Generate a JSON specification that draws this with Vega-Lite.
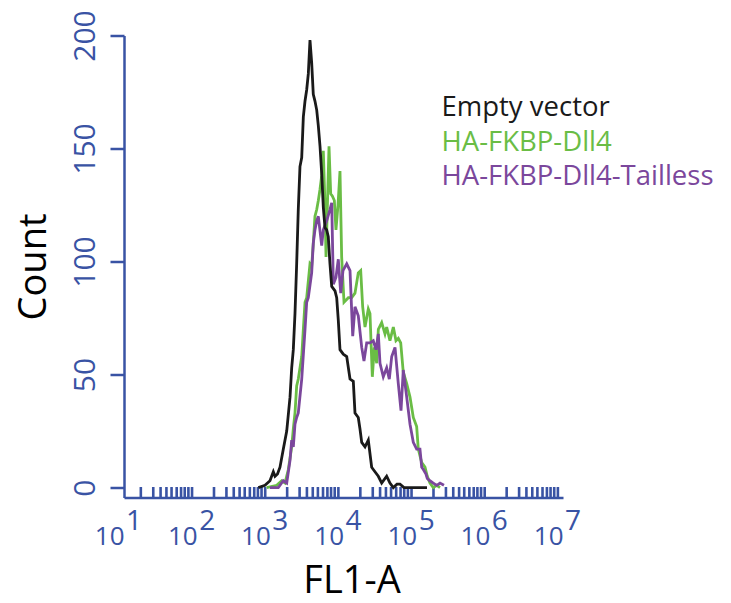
{
  "$schema": "https://vega.github.io/schema/vega-lite/v6.json",
  "autosize": "none",
  "width": 439,
  "height": 462,
  "padding": {"left": 124, "top": 35.5, "right": 168, "bottom": 105.5},
  "background": "white",
  "config": {"view": {"stroke": null}},
  "layer": [
    {
      "data": {"values": [
        {"rug": 1.23}, {"rug": 1.40}, {"rug": 1.50}, {"rug": 1.58}, {"rug": 1.65}, {"rug": 1.72}, {"rug": 1.78}, {"rug": 1.83}, {"rug": 1.88}, {"rug": 1.93},
        {"rug": 2.23}, {"rug": 2.40}, {"rug": 2.50}, {"rug": 2.58}, {"rug": 2.65}, {"rug": 2.72}, {"rug": 2.78}, {"rug": 2.83}, {"rug": 2.88}, {"rug": 2.93},
        {"rug": 3.23}, {"rug": 3.40}, {"rug": 3.50}, {"rug": 3.58}, {"rug": 3.65}, {"rug": 3.72}, {"rug": 3.78}, {"rug": 3.83}, {"rug": 3.88}, {"rug": 3.93},
        {"rug": 4.23}, {"rug": 4.40}, {"rug": 4.50}, {"rug": 4.58}, {"rug": 4.65}, {"rug": 4.72}, {"rug": 4.78}, {"rug": 4.83}, {"rug": 4.88}, {"rug": 4.93},
        {"rug": 5.23}, {"rug": 5.40}, {"rug": 5.50}, {"rug": 5.58}, {"rug": 5.65}, {"rug": 5.72}, {"rug": 5.78}, {"rug": 5.83}, {"rug": 5.88}, {"rug": 5.93},
        {"rug": 6.23}, {"rug": 6.40}, {"rug": 6.50}, {"rug": 6.58}, {"rug": 6.65}, {"rug": 6.72}, {"rug": 6.78}, {"rug": 6.83}, {"rug": 6.88}, {"rug": 6.93}
      ]},
      "mark": {"type": "tick", "orient": "vertical", "color": "#3953a4", "thickness": 2.6, "size": 11, "opacity": 1, "clip": false},
      "encoding": {
        "x": {"field": "rug", "type": "quantitative"},
        "y": {"datum": -2.2}
      }
    },
    {
      "data": {"values": [
        {"series": "HA-FKBP-Dll4", "log_fl1a": 2.950, "count": 0},
        {"series": "HA-FKBP-Dll4", "log_fl1a": 3.087, "count": 1},
        {"series": "HA-FKBP-Dll4", "log_fl1a": 3.155, "count": 3},
        {"series": "HA-FKBP-Dll4", "log_fl1a": 3.200, "count": 2},
        {"series": "HA-FKBP-Dll4", "log_fl1a": 3.246, "count": 8},
        {"series": "HA-FKBP-Dll4", "log_fl1a": 3.292, "count": 18},
        {"series": "HA-FKBP-Dll4", "log_fl1a": 3.314, "count": 26},
        {"series": "HA-FKBP-Dll4", "log_fl1a": 3.337, "count": 33},
        {"series": "HA-FKBP-Dll4", "log_fl1a": 3.360, "count": 45},
        {"series": "HA-FKBP-Dll4", "log_fl1a": 3.382, "count": 48},
        {"series": "HA-FKBP-Dll4", "log_fl1a": 3.429, "count": 58},
        {"series": "HA-FKBP-Dll4", "log_fl1a": 3.451, "count": 70},
        {"series": "HA-FKBP-Dll4", "log_fl1a": 3.474, "count": 82},
        {"series": "HA-FKBP-Dll4", "log_fl1a": 3.497, "count": 84},
        {"series": "HA-FKBP-Dll4", "log_fl1a": 3.533, "count": 96},
        {"series": "HA-FKBP-Dll4", "log_fl1a": 3.542, "count": 99},
        {"series": "HA-FKBP-Dll4", "log_fl1a": 3.565, "count": 98},
        {"series": "HA-FKBP-Dll4", "log_fl1a": 3.587, "count": 108},
        {"series": "HA-FKBP-Dll4", "log_fl1a": 3.610, "count": 120},
        {"series": "HA-FKBP-Dll4", "log_fl1a": 3.634, "count": 123},
        {"series": "HA-FKBP-Dll4", "log_fl1a": 3.656, "count": 127},
        {"series": "HA-FKBP-Dll4", "log_fl1a": 3.679, "count": 132},
        {"series": "HA-FKBP-Dll4", "log_fl1a": 3.702, "count": 138},
        {"series": "HA-FKBP-Dll4", "log_fl1a": 3.724, "count": 149},
        {"series": "HA-FKBP-Dll4", "log_fl1a": 3.747, "count": 125},
        {"series": "HA-FKBP-Dll4", "log_fl1a": 3.761, "count": 102},
        {"series": "HA-FKBP-Dll4", "log_fl1a": 3.802, "count": 151},
        {"series": "HA-FKBP-Dll4", "log_fl1a": 3.825, "count": 130},
        {"series": "HA-FKBP-Dll4", "log_fl1a": 3.847, "count": 129},
        {"series": "HA-FKBP-Dll4", "log_fl1a": 3.875, "count": 127},
        {"series": "HA-FKBP-Dll4", "log_fl1a": 3.897, "count": 114},
        {"series": "HA-FKBP-Dll4", "log_fl1a": 3.925, "count": 125},
        {"series": "HA-FKBP-Dll4", "log_fl1a": 3.952, "count": 140},
        {"series": "HA-FKBP-Dll4", "log_fl1a": 3.975, "count": 102},
        {"series": "HA-FKBP-Dll4", "log_fl1a": 4.007, "count": 82},
        {"series": "HA-FKBP-Dll4", "log_fl1a": 4.066, "count": 84},
        {"series": "HA-FKBP-Dll4", "log_fl1a": 4.112, "count": 84},
        {"series": "HA-FKBP-Dll4", "log_fl1a": 4.157, "count": 86},
        {"series": "HA-FKBP-Dll4", "log_fl1a": 4.202, "count": 95},
        {"series": "HA-FKBP-Dll4", "log_fl1a": 4.235, "count": 96},
        {"series": "HA-FKBP-Dll4", "log_fl1a": 4.262, "count": 80},
        {"series": "HA-FKBP-Dll4", "log_fl1a": 4.294, "count": 71},
        {"series": "HA-FKBP-Dll4", "log_fl1a": 4.339, "count": 79},
        {"series": "HA-FKBP-Dll4", "log_fl1a": 4.362, "count": 77},
        {"series": "HA-FKBP-Dll4", "log_fl1a": 4.394, "count": 49},
        {"series": "HA-FKBP-Dll4", "log_fl1a": 4.421, "count": 62},
        {"series": "HA-FKBP-Dll4", "log_fl1a": 4.454, "count": 55},
        {"series": "HA-FKBP-Dll4", "log_fl1a": 4.476, "count": 70},
        {"series": "HA-FKBP-Dll4", "log_fl1a": 4.522, "count": 73},
        {"series": "HA-FKBP-Dll4", "log_fl1a": 4.567, "count": 68},
        {"series": "HA-FKBP-Dll4", "log_fl1a": 4.590, "count": 71},
        {"series": "HA-FKBP-Dll4", "log_fl1a": 4.635, "count": 65},
        {"series": "HA-FKBP-Dll4", "log_fl1a": 4.681, "count": 71},
        {"series": "HA-FKBP-Dll4", "log_fl1a": 4.717, "count": 65},
        {"series": "HA-FKBP-Dll4", "log_fl1a": 4.749, "count": 66},
        {"series": "HA-FKBP-Dll4", "log_fl1a": 4.782, "count": 64},
        {"series": "HA-FKBP-Dll4", "log_fl1a": 4.817, "count": 51},
        {"series": "HA-FKBP-Dll4", "log_fl1a": 4.864, "count": 46},
        {"series": "HA-FKBP-Dll4", "log_fl1a": 4.909, "count": 40},
        {"series": "HA-FKBP-Dll4", "log_fl1a": 4.954, "count": 31},
        {"series": "HA-FKBP-Dll4", "log_fl1a": 5.000, "count": 27},
        {"series": "HA-FKBP-Dll4", "log_fl1a": 5.022, "count": 17},
        {"series": "HA-FKBP-Dll4", "log_fl1a": 5.069, "count": 11},
        {"series": "HA-FKBP-Dll4", "log_fl1a": 5.114, "count": 9},
        {"series": "HA-FKBP-Dll4", "log_fl1a": 5.145, "count": 5},
        {"series": "HA-FKBP-Dll4", "log_fl1a": 5.182, "count": 2},
        {"series": "HA-FKBP-Dll4", "log_fl1a": 5.227, "count": 0},
        {"series": "HA-FKBP-Dll4", "log_fl1a": 5.274, "count": 1},
        {"series": "HA-FKBP-Dll4", "log_fl1a": 5.319, "count": 0},

        {"series": "HA-FKBP-Dll4-Tailless", "log_fl1a": 2.995, "count": 0},
        {"series": "HA-FKBP-Dll4-Tailless", "log_fl1a": 3.109, "count": 0},
        {"series": "HA-FKBP-Dll4-Tailless", "log_fl1a": 3.177, "count": 3},
        {"series": "HA-FKBP-Dll4-Tailless", "log_fl1a": 3.224, "count": 2},
        {"series": "HA-FKBP-Dll4-Tailless", "log_fl1a": 3.269, "count": 12},
        {"series": "HA-FKBP-Dll4-Tailless", "log_fl1a": 3.292, "count": 21},
        {"series": "HA-FKBP-Dll4-Tailless", "log_fl1a": 3.314, "count": 18},
        {"series": "HA-FKBP-Dll4-Tailless", "log_fl1a": 3.337, "count": 28},
        {"series": "HA-FKBP-Dll4-Tailless", "log_fl1a": 3.360, "count": 31},
        {"series": "HA-FKBP-Dll4-Tailless", "log_fl1a": 3.382, "count": 33},
        {"series": "HA-FKBP-Dll4-Tailless", "log_fl1a": 3.429, "count": 48},
        {"series": "HA-FKBP-Dll4-Tailless", "log_fl1a": 3.474, "count": 70},
        {"series": "HA-FKBP-Dll4-Tailless", "log_fl1a": 3.497, "count": 82},
        {"series": "HA-FKBP-Dll4-Tailless", "log_fl1a": 3.519, "count": 84},
        {"series": "HA-FKBP-Dll4-Tailless", "log_fl1a": 3.565, "count": 95},
        {"series": "HA-FKBP-Dll4-Tailless", "log_fl1a": 3.587, "count": 108},
        {"series": "HA-FKBP-Dll4-Tailless", "log_fl1a": 3.610, "count": 114},
        {"series": "HA-FKBP-Dll4-Tailless", "log_fl1a": 3.634, "count": 118},
        {"series": "HA-FKBP-Dll4-Tailless", "log_fl1a": 3.656, "count": 120},
        {"series": "HA-FKBP-Dll4-Tailless", "log_fl1a": 3.702, "count": 107},
        {"series": "HA-FKBP-Dll4-Tailless", "log_fl1a": 3.724, "count": 114},
        {"series": "HA-FKBP-Dll4-Tailless", "log_fl1a": 3.770, "count": 118},
        {"series": "HA-FKBP-Dll4-Tailless", "log_fl1a": 3.815, "count": 123},
        {"series": "HA-FKBP-Dll4-Tailless", "log_fl1a": 3.839, "count": 126},
        {"series": "HA-FKBP-Dll4-Tailless", "log_fl1a": 3.861, "count": 90},
        {"series": "HA-FKBP-Dll4-Tailless", "log_fl1a": 3.897, "count": 93},
        {"series": "HA-FKBP-Dll4-Tailless", "log_fl1a": 3.929, "count": 101},
        {"series": "HA-FKBP-Dll4-Tailless", "log_fl1a": 3.962, "count": 86},
        {"series": "HA-FKBP-Dll4-Tailless", "log_fl1a": 3.993, "count": 96},
        {"series": "HA-FKBP-Dll4-Tailless", "log_fl1a": 4.044, "count": 99},
        {"series": "HA-FKBP-Dll4-Tailless", "log_fl1a": 4.089, "count": 96},
        {"series": "HA-FKBP-Dll4-Tailless", "log_fl1a": 4.126, "count": 67},
        {"series": "HA-FKBP-Dll4-Tailless", "log_fl1a": 4.157, "count": 80},
        {"series": "HA-FKBP-Dll4-Tailless", "log_fl1a": 4.202, "count": 76},
        {"series": "HA-FKBP-Dll4-Tailless", "log_fl1a": 4.249, "count": 62},
        {"series": "HA-FKBP-Dll4-Tailless", "log_fl1a": 4.280, "count": 56},
        {"series": "HA-FKBP-Dll4-Tailless", "log_fl1a": 4.317, "count": 64},
        {"series": "HA-FKBP-Dll4-Tailless", "log_fl1a": 4.362, "count": 64},
        {"series": "HA-FKBP-Dll4-Tailless", "log_fl1a": 4.407, "count": 65},
        {"series": "HA-FKBP-Dll4-Tailless", "log_fl1a": 4.444, "count": 61},
        {"series": "HA-FKBP-Dll4-Tailless", "log_fl1a": 4.476, "count": 68},
        {"series": "HA-FKBP-Dll4-Tailless", "log_fl1a": 4.499, "count": 55},
        {"series": "HA-FKBP-Dll4-Tailless", "log_fl1a": 4.544, "count": 49},
        {"series": "HA-FKBP-Dll4-Tailless", "log_fl1a": 4.590, "count": 53},
        {"series": "HA-FKBP-Dll4-Tailless", "log_fl1a": 4.626, "count": 48},
        {"series": "HA-FKBP-Dll4-Tailless", "log_fl1a": 4.659, "count": 58},
        {"series": "HA-FKBP-Dll4-Tailless", "log_fl1a": 4.704, "count": 62},
        {"series": "HA-FKBP-Dll4-Tailless", "log_fl1a": 4.749, "count": 46},
        {"series": "HA-FKBP-Dll4-Tailless", "log_fl1a": 4.786, "count": 34},
        {"series": "HA-FKBP-Dll4-Tailless", "log_fl1a": 4.817, "count": 52},
        {"series": "HA-FKBP-Dll4-Tailless", "log_fl1a": 4.864, "count": 40},
        {"series": "HA-FKBP-Dll4-Tailless", "log_fl1a": 4.909, "count": 28},
        {"series": "HA-FKBP-Dll4-Tailless", "log_fl1a": 4.954, "count": 20},
        {"series": "HA-FKBP-Dll4-Tailless", "log_fl1a": 5.000, "count": 17},
        {"series": "HA-FKBP-Dll4-Tailless", "log_fl1a": 5.045, "count": 17},
        {"series": "HA-FKBP-Dll4-Tailless", "log_fl1a": 5.069, "count": 9},
        {"series": "HA-FKBP-Dll4-Tailless", "log_fl1a": 5.091, "count": 8},
        {"series": "HA-FKBP-Dll4-Tailless", "log_fl1a": 5.127, "count": 6},
        {"series": "HA-FKBP-Dll4-Tailless", "log_fl1a": 5.145, "count": 4},
        {"series": "HA-FKBP-Dll4-Tailless", "log_fl1a": 5.182, "count": 3},
        {"series": "HA-FKBP-Dll4-Tailless", "log_fl1a": 5.227, "count": 2},
        {"series": "HA-FKBP-Dll4-Tailless", "log_fl1a": 5.274, "count": 1},
        {"series": "HA-FKBP-Dll4-Tailless", "log_fl1a": 5.319, "count": 2},
        {"series": "HA-FKBP-Dll4-Tailless", "log_fl1a": 5.373, "count": 1},

        {"series": "Empty vector", "log_fl1a": 2.836, "count": 0},
        {"series": "Empty vector", "log_fl1a": 2.927, "count": 1},
        {"series": "Empty vector", "log_fl1a": 2.995, "count": 3},
        {"series": "Empty vector", "log_fl1a": 3.041, "count": 7},
        {"series": "Empty vector", "log_fl1a": 3.064, "count": 5},
        {"series": "Empty vector", "log_fl1a": 3.098, "count": 6},
        {"series": "Empty vector", "log_fl1a": 3.132, "count": 9},
        {"series": "Empty vector", "log_fl1a": 3.177, "count": 17},
        {"series": "Empty vector", "log_fl1a": 3.224, "count": 25},
        {"series": "Empty vector", "log_fl1a": 3.269, "count": 40},
        {"series": "Empty vector", "log_fl1a": 3.292, "count": 53},
        {"series": "Empty vector", "log_fl1a": 3.314, "count": 61},
        {"series": "Empty vector", "log_fl1a": 3.337, "count": 77},
        {"series": "Empty vector", "log_fl1a": 3.360, "count": 99},
        {"series": "Empty vector", "log_fl1a": 3.382, "count": 123},
        {"series": "Empty vector", "log_fl1a": 3.405, "count": 142},
        {"series": "Empty vector", "log_fl1a": 3.429, "count": 146},
        {"series": "Empty vector", "log_fl1a": 3.451, "count": 164},
        {"series": "Empty vector", "log_fl1a": 3.474, "count": 171},
        {"series": "Empty vector", "log_fl1a": 3.497, "count": 176},
        {"series": "Empty vector", "log_fl1a": 3.519, "count": 183},
        {"series": "Empty vector", "log_fl1a": 3.542, "count": 198},
        {"series": "Empty vector", "log_fl1a": 3.565, "count": 188},
        {"series": "Empty vector", "log_fl1a": 3.587, "count": 174},
        {"series": "Empty vector", "log_fl1a": 3.610, "count": 171},
        {"series": "Empty vector", "log_fl1a": 3.634, "count": 167},
        {"series": "Empty vector", "log_fl1a": 3.656, "count": 160},
        {"series": "Empty vector", "log_fl1a": 3.679, "count": 151},
        {"series": "Empty vector", "log_fl1a": 3.702, "count": 139},
        {"series": "Empty vector", "log_fl1a": 3.724, "count": 124},
        {"series": "Empty vector", "log_fl1a": 3.747, "count": 115},
        {"series": "Empty vector", "log_fl1a": 3.770, "count": 114},
        {"series": "Empty vector", "log_fl1a": 3.792, "count": 111},
        {"series": "Empty vector", "log_fl1a": 3.815, "count": 99},
        {"series": "Empty vector", "log_fl1a": 3.839, "count": 89},
        {"series": "Empty vector", "log_fl1a": 3.884, "count": 87},
        {"series": "Empty vector", "log_fl1a": 3.907, "count": 84},
        {"series": "Empty vector", "log_fl1a": 3.929, "count": 74},
        {"series": "Empty vector", "log_fl1a": 3.952, "count": 61},
        {"series": "Empty vector", "log_fl1a": 3.997, "count": 59},
        {"series": "Empty vector", "log_fl1a": 4.044, "count": 58},
        {"series": "Empty vector", "log_fl1a": 4.089, "count": 48},
        {"series": "Empty vector", "log_fl1a": 4.134, "count": 47},
        {"series": "Empty vector", "log_fl1a": 4.157, "count": 33},
        {"series": "Empty vector", "log_fl1a": 4.202, "count": 31},
        {"series": "Empty vector", "log_fl1a": 4.225, "count": 26},
        {"series": "Empty vector", "log_fl1a": 4.249, "count": 20},
        {"series": "Empty vector", "log_fl1a": 4.294, "count": 18},
        {"series": "Empty vector", "log_fl1a": 4.339, "count": 21},
        {"series": "Empty vector", "log_fl1a": 4.385, "count": 9},
        {"series": "Empty vector", "log_fl1a": 4.430, "count": 7},
        {"series": "Empty vector", "log_fl1a": 4.476, "count": 5},
        {"series": "Empty vector", "log_fl1a": 4.522, "count": 2},
        {"series": "Empty vector", "log_fl1a": 4.590, "count": 5},
        {"series": "Empty vector", "log_fl1a": 4.635, "count": 2},
        {"series": "Empty vector", "log_fl1a": 4.681, "count": 0},
        {"series": "Empty vector", "log_fl1a": 4.731, "count": 1.5},
        {"series": "Empty vector", "log_fl1a": 4.772, "count": 1.5},
        {"series": "Empty vector", "log_fl1a": 4.827, "count": 0},
        {"series": "Empty vector", "log_fl1a": 5.141, "count": 0}
      ]},
      "mark": {"type": "line", "strokeWidth": 2.8, "clip": false},
      "encoding": {
        "x": {
          "field": "log_fl1a", "type": "quantitative",
          "scale": {"domain": [1, 7], "nice": false, "zero": false},
          "axis": {
            "title": "FL1-A",
            "titleFont": "Open Sans", "titleFontSize": 38, "titleFontWeight": "normal", "titleColor": "#000000",
            "titleX": 227.5, "titleY": 95, "titleAlign": "center", "titleBaseline": "alphabetic", "titleAngle": 0,
            "grid": false,
            "domainColor": "#3953a4", "domainWidth": 2.5,
            "values": [1, 2, 3, 4, 5, 6, 7],
            "ticks": false,
            "labelExpr": "'10'",
            "labelFont": "Open Sans", "labelFontSize": 26, "labelColor": "#3953a4",
            "labelAlign": "right", "labelBaseline": "alphabetic", "labelDx": 3, "labelPadding": 47,
            "labelOverlap": false, "labelFlush": false, "labelBound": false
          }
        },
        "y": {
          "field": "count", "type": "quantitative",
          "scale": {"domain": [-4.4, 200], "nice": false, "zero": false},
          "axis": {
            "title": "Count",
            "titleFont": "Open Sans", "titleFontSize": 38, "titleFontWeight": "normal", "titleColor": "#000000",
            "titleAngle": 270, "titleX": -79, "titleY": 231, "titleAlign": "center", "titleBaseline": "alphabetic",
            "grid": false,
            "values": [0, 50, 100, 150, 200],
            "domainColor": "#3953a4", "domainWidth": 2.5,
            "tickColor": "#3953a4", "tickWidth": 2.5, "tickSize": 14,
            "labelFont": "Open Sans", "labelFontSize": 30, "labelColor": "#3953a4",
            "labelAngle": 270, "labelAlign": "center", "labelBaseline": "alphabetic", "labelPadding": 16,
            "labelOverlap": false, "labelFlush": false, "labelBound": false
          }
        },
        "color": {
          "field": "series", "type": "nominal",
          "scale": {
            "domain": ["Empty vector", "HA-FKBP-Dll4", "HA-FKBP-Dll4-Tailless"],
            "range": ["#1a1a1a", "#6abd45", "#7b479c"]
          },
          "legend": {
            "title": null, "orient": "none", "legendX": 290, "legendY": 59,
            "padding": 0, "symbolSize": 0, "symbolOpacity": 0, "symbolStrokeWidth": 0,
            "labelOffset": 0, "labelFont": "Open Sans", "labelFontSize": 27.5, "labelLimit": 500,
            "rowPadding": 5.5,
            "labelColor": {"expr": "datum.label === 'Empty vector' ? '#1a1a1a' : (datum.label === 'HA-FKBP-Dll4' ? '#6abd45' : '#7b479c')"}
          }
        }
      }
    },
    {
      "data": {"values": [
        {"decade": 1, "exponent": "1"},
        {"decade": 2, "exponent": "2"},
        {"decade": 3, "exponent": "3"},
        {"decade": 4, "exponent": "4"},
        {"decade": 5, "exponent": "5"},
        {"decade": 6, "exponent": "6"},
        {"decade": 7, "exponent": "7"}
      ]},
      "mark": {"type": "text", "font": "Open Sans", "fontSize": 28, "color": "#3953a4", "align": "center", "baseline": "alphabetic", "dx": 10, "clip": false},
      "encoding": {
        "x": {"field": "decade", "type": "quantitative"},
        "y": {"datum": -18.7},
        "text": {"field": "exponent"}
      }
    }
  ]
}
